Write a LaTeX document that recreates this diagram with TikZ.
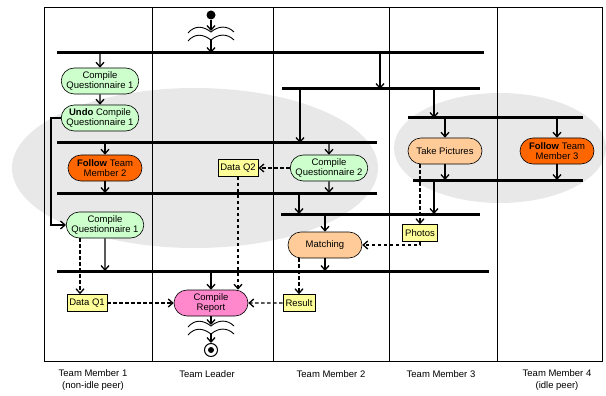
\documentclass[tikz,border=0pt]{standalone}
\usepackage{fontspec}
\setmainfont{Liberation Sans}
\usetikzlibrary{shapes.misc,arrows.meta}
\definecolor{qgreen}{RGB}{204,255,204}
\definecolor{forange}{RGB}{255,102,0}
\definecolor{tpeach}{RGB}{255,204,153}
\definecolor{rpink}{RGB}{255,136,204}
\definecolor{dyellow}{RGB}{255,255,153}
\definecolor{ellgray}{RGB}{232,232,232}
\tikzset{
	act/.style={rounded rectangle, draw, line width=0.6pt, minimum width=76pt, minimum height=26pt,
		inner sep=1pt, align=center, font=\fontsize{9.5}{10.5}\selectfont},
	quest/.style={act, fill=qgreen},
	follow/.style={act, fill=forange},
	work/.style={act, fill=tpeach},
	report/.style={act, fill=rpink},
	datum/.style={draw, line width=0.6pt, fill=dyellow, minimum height=17pt, inner xsep=2.5pt,
		inner ysep=1pt, font=\fontsize{9.5}{10.5}\selectfont},
	bar/.style={line width=3pt},
	flow/.style={line width=1.3pt, -{Straight Barb[length=4.5pt,width=8pt]}},
	dflow/.style={flow, dash pattern=on 3.5pt off 2.5pt},
	lane/.style={line width=0.9pt},
	wave/.style={line width=0.9pt},
	startdot/.style={circle, fill, inner sep=0pt, minimum size=9pt},
	stopdot/.style={circle, draw, line width=1pt, inner sep=0pt, minimum size=13pt,
		path picture={\fill (path picture bounding box.center) circle (3pt);}},
	lanelabel/.style={align=center, font=\fontsize{9.5}{11.5}\selectfont},
}
\begin{document}
\begin{tikzpicture}[x=1pt,y=-1pt]
	\useasboundingbox (0,0) rectangle (606,396);

	% GROUPS
	\fill[ellgray] (195,168) ellipse [x radius=183, y radius=80];
	\fill[ellgray] (500,148) ellipse [x radius=106, y radius=55];

	% SWIMLANES
	\draw[lane] (44,7) rectangle (602,361);
	\foreach \x in {152,273,389,497} {
		\draw[lane] (\x,7) -- (\x,361);
	}
	\node[lanelabel] (tm1) at (93,380) {Team Member 1\\(non-idle peer)};
	\node[lanelabel] (tl) at (207,374) {Team Leader};
	\node[lanelabel] (tm2) at (331,374) {Team Member 2};
	\node[lanelabel] (tm3) at (441,374) {Team Member 3};
	\node[lanelabel] (tm4) at (557,380) {Team Member 4\\(idle peer)};

	% BARS
	\foreach \n/\xa/\xb/\y in {b1/57/484/53, b2/282/480/89, rb1/408/583/118, b3/57/377/143,
		rb2/413/583/180, b4/57/377/193, b5/281/480/214, b6/57/489/271} {
		\coordinate (\n w) at (\xa,\y);
		\coordinate (\n e) at (\xb,\y);
		\draw[bar] (\n w) -- (\n e);
	}

	% ACTIVITIES
	\node[quest] (cqa) at (100,81) {Compile\\Questionnaire 1};
	\node[quest] (undo) at (100,118) {\textbf{Undo} Compile\\Questionnaire 1};
	\node[follow] (fol2) at (105,168) {\textbf{Follow} Team\\Member 2};
	\node[quest] (cqb) at (105,225) {Compile\\Questionnaire 1};
	\node[datum] (dq1) at (87,303) {Data Q1};
	\node[report] (rep) at (211,303) {Compile\\Report};
	\node[datum] (dq2) at (238,168) {Data Q2};
	\node[quest] (cq2) at (329,168) {Compile\\Questionnaire 2};
	\node[work] (match) at (325,245) {Matching};
	\node[datum] (res) at (299,303) {Result};
	\node[work] (pics) at (445,151) {Take Pictures};
	\node[datum] (photos) at (420,233) {Photos};
	\node[follow] (fol3) at (557,151) {\textbf{Follow} Team\\Member 3};
	\node[startdot] (start) at (211,15) {};
	\node[stopdot] (stop) at (211,350) {};

	% INTERRUPTS
	\foreach \wy in {31,39,325,333} {
		\draw[wave] (188,\wy+2) .. controls (195,\wy-6) and (203,\wy-5) .. (211,\wy+1)
			.. controls (218,\wy-5) and (227,\wy-6) .. (234,\wy+1);
	}
	\coordinate (topwa) at (211,31);
	\coordinate (topwb) at (211,39);
	\coordinate (botwa) at (211,325);
	\coordinate (botwb) at (211,333);

	% CONTROL FLOW
	\draw[flow] (start) -- (topwa);
	\draw[flow] (topwb) -- (topwb |- b1w);
	\draw[flow] (b1w -| cqa) -- (cqa);
	\draw[flow] (cqa) -- (undo);
	\draw[flow] (undo.west) -- ++(-10,0) |- (cqb.west);
	\draw[flow] (b1w -| 380,0) -- (b2w -| 380,0);
	\draw[flow] (b2w -| 300,0) -- (b3w -| 300,0);
	\draw[flow] (b2w -| 434,0) -- (rb1w -| 434,0);
	\draw[flow] (b3w -| fol2) -- (fol2);
	\draw[flow] (b3w -| cq2) -- (cq2);
	\draw[flow] (fol2) -- (fol2 |- b4w);
	\draw[flow] (cq2) -- (cq2 |- b4w);
	\draw[flow] (rb1w -| pics) -- (pics);
	\draw[flow] (rb1w -| fol3) -- (fol3);
	\draw[flow] (pics) -- (pics |- rb2w);
	\draw[flow] (fol3) -- (fol3 |- rb2w);
	\draw[flow] (rb2w -| 434,0) -- (b5w -| 434,0);
	\draw[flow] (b4w -| 299,0) -- (b5w -| 299,0);
	\draw[flow] (b5w -| match) -- (match);
	\draw[flow] (match) -- (match |- b6w);
	\draw[flow] (cqb) -- (cqb |- b6w);
	\draw[flow] (b6w -| rep) -- (rep);
	\draw[flow] (rep) -- (botwa);
	\draw[flow] (botwb) -- (stop);

	% OBJECT FLOW
	\draw[dflow] (cq2) -- (dq2);
	\draw[dflow] (dq2.south) -- (dq2.south |- rep.north);
	\draw[dflow] ([xshift=-25pt]cqb.south) -- ([xshift=-25pt]cqb.south |- dq1.north);
	\draw[dflow] (dq1) -- (rep);
	\draw[dflow] (res) -- (rep);
	\draw[dflow] (res.north |- match.south) -- (res.north);
	\draw[dflow] (photos.north |- pics.south) -- (photos.north);
	\draw[dflow] (photos.south) |- (match.east);
\end{tikzpicture}
\end{document}
